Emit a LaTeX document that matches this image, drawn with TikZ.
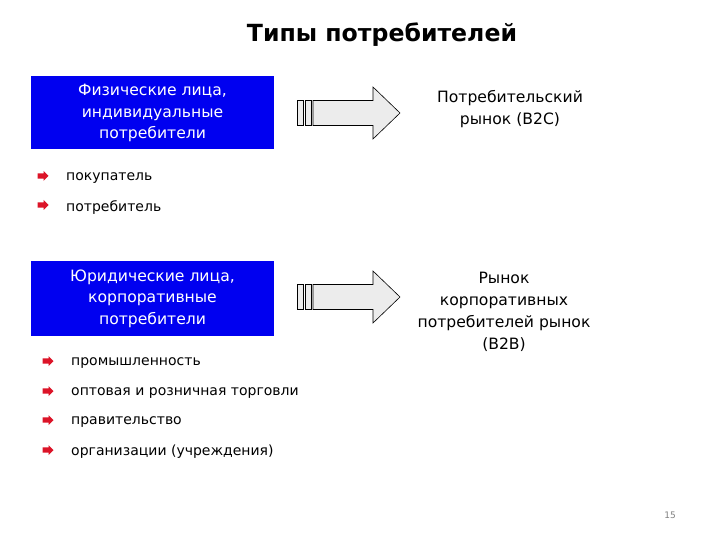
\documentclass[tikz,border=0pt]{standalone}
\usepackage{fontspec}
\setmainfont{DejaVu Sans}
\usetikzlibrary{positioning}
\definecolor{boxblue}{RGB}{0,0,240}
\definecolor{bulletred}{RGB}{220,20,40}
\definecolor{arrowfill}{RGB}{236,236,236}
\tikzset{
  bluebox/.style={draw=none, fill=boxblue, text=white, minimum width=243pt, minimum height=73pt, align=center, font=\fontsize{15.6}{21.5}\selectfont, inner sep=0pt},
  plain/.style={align=center, font=\fontsize{15.6}{21.8}\selectfont, inner sep=0pt},
  itemtext/.style={anchor=west, font=\fontsize{14}{17}\selectfont, inner sep=0pt},
  blockarrow/.style={draw=black, line width=0.6pt, fill=arrowfill},
}
\newcommand{\redbullet}[2]{%
  \fill[bulletred] (#1-5.5,#2+2.6) -- (#1+0.5,#2+2.6) -- (#1+0.5,#2+5) -- (#1+5.5,#2) -- (#1+0.5,#2-5) -- (#1+0.5,#2-2.6) -- (#1-5.5,#2-2.6) -- cycle;}
\newcommand{\bigarrow}[1]{%
  \draw[blockarrow] (297,#1+12.5) rectangle (303,#1-12.5);
  \draw[blockarrow] (305,#1+12.5) rectangle (311,#1-12.5);
  \draw[blockarrow] (313,#1+12.5) -- (373,#1+12.5) -- (373,#1+26) -- (400,#1) -- (373,#1-26) -- (373,#1-12.5) -- (313,#1-12.5) -- cycle;}
\begin{document}
\begin{tikzpicture}[x=1pt,y=-1pt]
\useasboundingbox (0,0) rectangle (720,540);
\node[font=\fontsize{23.6}{28}\selectfont\bfseries] (title) at (382,35) {Типы потребителей};

\node[bluebox] (phys) at (152.5,113) {Физические лица,\\индивидуальные\\потребители};
\bigarrow{113}
\node[plain] (b2c) at (510,109) {Потребительский\\рынок (B2C)};

\redbullet{43}{176}
\node[itemtext] (i1) at (66,178) {покупатель};
\redbullet{43}{205}
\node[itemtext] (i2) at (66,207.5) {потребитель};

\node[bluebox, minimum height=75pt] (jur) at (152.5,298.5) {Юридические лица,\\корпоративные\\потребители};
\bigarrow{297}
\node[plain] (b2b) at (504,312) {Рынок\\корпоративных\\потребителей рынок\\(B2B)};

\redbullet{48}{361}
\node[itemtext] (j1) at (71,363) {промышленность};
\redbullet{48}{391}
\node[itemtext] (j2) at (71,393) {оптовая и розничная торговли};
\redbullet{48}{420}
\node[itemtext] (j3) at (71,422) {правительство};
\redbullet{48}{450}
\node[itemtext] (j4) at (71,452) {организации (учреждения)};

\node[font=\fontsize{9}{10}\selectfont, text=gray] (page) at (670,515) {15};
\end{tikzpicture}
\end{document}
